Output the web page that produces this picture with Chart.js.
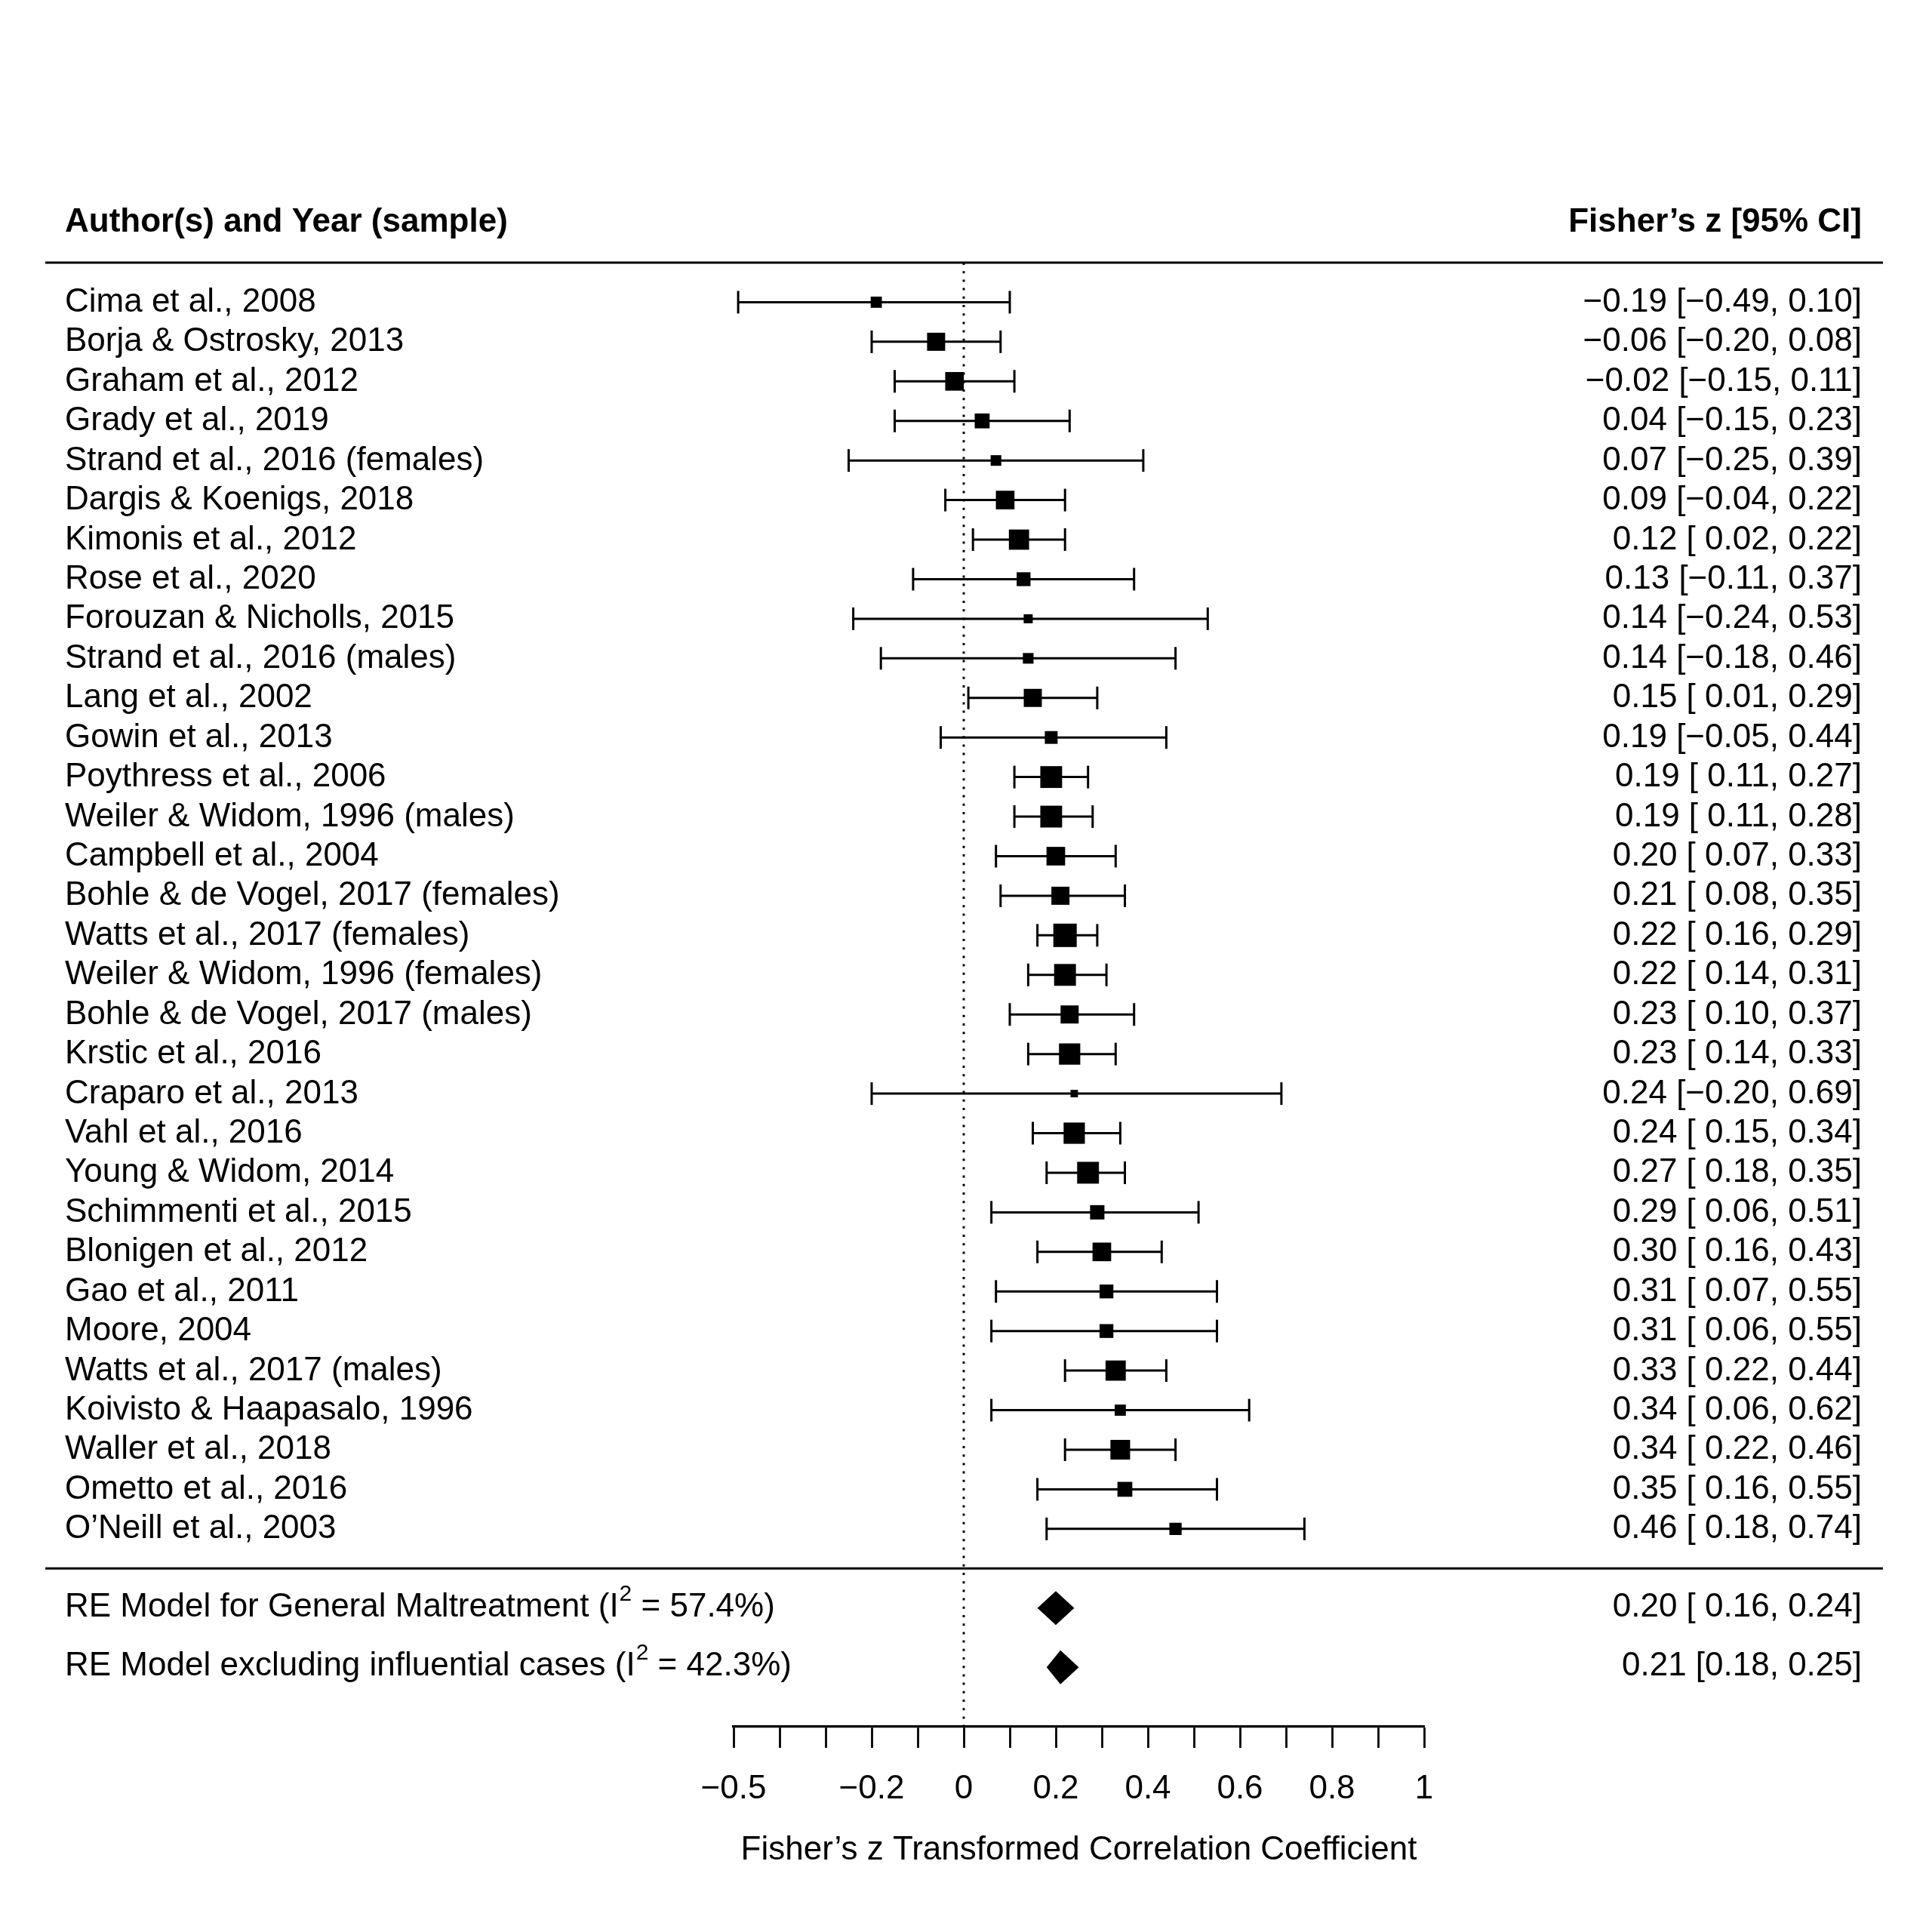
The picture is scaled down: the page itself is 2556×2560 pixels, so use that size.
<!DOCTYPE html>
<html>
<head>
<meta charset="utf-8">
<script src="https://cdn.jsdelivr.net/npm/chart.js@4.4.1/dist/chart.umd.min.js"></script>
<style>
  html, body { margin: 0; padding: 0; background: #fff; }
  #caja { width: 2556px; height: 2560px; }
</style>
</head>
<body>
<div id="caja"><canvas id="grafico" width="2556" height="2560"></canvas></div>
<script>
// datos de los estudios
const studies = [
    'Cima et al., 2008', 'Borja & Ostrosky, 2013', 'Graham et al., 2012', 'Grady et al., 2019',
    'Strand et al., 2016 (females)', 'Dargis & Koenigs, 2018', 'Kimonis et al., 2012', 'Rose et al., 2020',
    'Forouzan & Nicholls, 2015', 'Strand et al., 2016 (males)', 'Lang et al., 2002', 'Gowin et al., 2013',
    'Poythress et al., 2006', 'Weiler & Widom, 1996 (males)', 'Campbell et al., 2004', 'Bohle & de Vogel, 2017 (females)',
    'Watts et al., 2017 (females)', 'Weiler & Widom, 1996 (females)', 'Bohle & de Vogel, 2017 (males)', 'Krstic et al., 2016',
    'Craparo et al., 2013', 'Vahl et al., 2016', 'Young & Widom, 2014', 'Schimmenti et al., 2015',
    'Blonigen et al., 2012', 'Gao et al., 2011', 'Moore, 2004', 'Watts et al., 2017 (males)',
    'Koivisto & Haapasalo, 1996', 'Waller et al., 2018', 'Ometto et al., 2016', 'O\u2019Neill et al., 2003'
];
const estimates = [-0.19, -0.06, -0.02, 0.04, 0.07, 0.09, 0.12, 0.13, 0.14, 0.14, 0.15, 0.19, 0.19, 0.19, 0.20, 0.21,
    0.22, 0.22, 0.23, 0.23, 0.24, 0.24, 0.27, 0.29, 0.30, 0.31, 0.31, 0.33, 0.34, 0.34, 0.35, 0.46];
const ciLower = [-0.49, -0.20, -0.15, -0.15, -0.25, -0.04, 0.02, -0.11, -0.24, -0.18, 0.01, -0.05, 0.11, 0.11, 0.07, 0.08,
    0.16, 0.14, 0.10, 0.14, -0.20, 0.15, 0.18, 0.06, 0.16, 0.07, 0.06, 0.22, 0.06, 0.22, 0.16, 0.18];
const ciUpper = [0.10, 0.08, 0.11, 0.23, 0.39, 0.22, 0.22, 0.37, 0.53, 0.46, 0.29, 0.44, 0.27, 0.28, 0.33, 0.35,
    0.29, 0.31, 0.37, 0.33, 0.69, 0.34, 0.35, 0.51, 0.43, 0.55, 0.55, 0.44, 0.62, 0.46, 0.55, 0.74];
const weights = [2.1, 3.4, 3.5, 2.8, 2.0, 3.5, 3.8, 2.6, 1.7, 2.0, 3.4, 2.4, 4.1, 4.1, 3.5, 3.4,
    4.4, 4.1, 3.4, 4.0, 1.4, 4.0, 4.1, 2.7, 3.5, 2.6, 2.6, 3.8, 2.1, 3.7, 2.8, 2.3];

// modelos RE
const summaryLabels = ['RE Model for General Maltreatment', 'RE Model excluding influential cases'];
const summaryI2 = [57.4, 42.3];
const summaryEst = [0.20, 0.21];
const summaryLower = [0.16, 0.18];
const summaryUpper = [0.24, 0.25];

// eje x
const axisTicks = [-0.5, -0.4, -0.3, -0.2, -0.1, 0, 0.1, 0.2, 0.3, 0.4, 0.5, 0.6, 0.7, 0.8, 0.9, 1.0];
const labelledTicks = [-0.5, -0.2, 0, 0.2, 0.4, 0.6, 0.8, 1.0];

const FUENTE = '"Liberation Sans", Arial, Helvetica, sans-serif';
const SUMMARY_ROWS = [34, 35.5];
const TOTAL_ROWS = 37;
const LEFT_X = 86, RIGHT_X = 2467, RULE_L = 60, RULE_R = 2495;

const fmt = v => (v < 0 ? '\u2212' : '') + Math.abs(v).toFixed(2);

const forestPlugin = {
    id: 'forest',
    beforeDatasetsDraw(chart) {
        const { ctx, scales: { x, y } } = chart;
        const linea = (x1, y1, x2, y2) => { ctx.beginPath(); ctx.moveTo(x1, y1); ctx.lineTo(x2, y2); ctx.stroke(); };
        ctx.save();
        ctx.strokeStyle = '#000';

        // lineas horizontales
        ctx.lineWidth = 3.2;
        [0, 33].forEach(r => { const py = y.getPixelForValue(r); linea(RULE_L, py, RULE_R, py); });

        // linea punteada en 0
        ctx.lineWidth = 3;
        ctx.setLineDash([3, 8.2]);
        linea(x.getPixelForValue(0), y.getPixelForValue(0), x.getPixelForValue(0), y.getPixelForValue(TOTAL_ROWS));
        ctx.setLineDash([]);

        // intervalos de confianza
        ctx.lineWidth = 3;
        estimates.forEach((e, i) => {
            const py = y.getPixelForValue(i + 1);
            const xl = x.getPixelForValue(ciLower[i]);
            const xu = x.getPixelForValue(ciUpper[i]);
            linea(xl, py, xu, py);
            linea(xl, py - 15, xl, py + 15);
            linea(xu, py - 15, xu, py + 15);
        });
        ctx.restore();
    },
    afterDatasetsDraw(chart) {
        const { ctx, scales: { x, y } } = chart;
        ctx.save();
        ctx.fillStyle = '#000';

        // diamantes
        summaryEst.forEach((e, i) => {
            const py = y.getPixelForValue(SUMMARY_ROWS[i]);
            ctx.beginPath();
            ctx.moveTo(x.getPixelForValue(summaryLower[i]), py);
            ctx.lineTo(x.getPixelForValue(e), py - 22.5);
            ctx.lineTo(x.getPixelForValue(summaryUpper[i]), py);
            ctx.lineTo(x.getPixelForValue(e), py + 22.5);
            ctx.closePath();
            ctx.fill();
        });

        // encabezados
        ctx.font = 'bold 44px ' + FUENTE;
        ctx.textBaseline = 'alphabetic';
        ctx.textAlign = 'left';
        ctx.fillText('Author(s) and Year (sample)', LEFT_X, 307);
        ctx.textAlign = 'right';
        ctx.fillText('Fisher\u2019s z [95% CI]', RIGHT_X, 307);

        // estudios
        ctx.font = '44px ' + FUENTE;
        studies.forEach((s, i) => {
            const py = y.getPixelForValue(i + 1) + 12.5;
            ctx.textAlign = 'left';
            ctx.fillText(s, LEFT_X, py);
            ctx.textAlign = 'right';
            const lo = ciLower[i] < 0 ? fmt(ciLower[i]) : ' ' + fmt(ciLower[i]);
            ctx.fillText(fmt(estimates[i]) + ' [' + lo + ', ' + fmt(ciUpper[i]) + ']', RIGHT_X, py);
        });

        // modelos
        summaryLabels.forEach((lab, i) => {
            const py = y.getPixelForValue(SUMMARY_ROWS[i]) + 11;
            ctx.font = '44px ' + FUENTE;
            ctx.textAlign = 'left';
            const parte1 = lab + ' (I';
            ctx.fillText(parte1, LEFT_X, py);
            let px = LEFT_X + ctx.measureText(parte1).width;
            ctx.font = '30px ' + FUENTE;
            ctx.fillText('2', px + 1, py - 21);
            px += ctx.measureText('2').width + 1;
            ctx.font = '44px ' + FUENTE;
            ctx.fillText(' = ' + summaryI2[i].toFixed(1) + '%)', px, py);
            ctx.textAlign = 'right';
            const lo = i === 0 ? ' ' + fmt(summaryLower[i]) : fmt(summaryLower[i]);
            ctx.fillText(fmt(summaryEst[i]) + ' [' + lo + ', ' + fmt(summaryUpper[i]) + ']', RIGHT_X, py);
        });
        ctx.restore();
    }
};

const grafico = document.getElementById('grafico').getContext('2d');

window.graficaForest = new Chart(grafico, {
    type: 'scatter',
    data: {
        datasets: [{
            label: 'Estudios',
            data: estimates.map((e, i) => ({ x: e, y: i + 1 })),
            pointStyle: 'rect',
            pointRadius: weights.map(w => w * 7.05 / Math.SQRT2),
            pointHoverRadius: weights.map(w => w * 7.05 / Math.SQRT2),
            backgroundColor: '#000',
            borderWidth: 0
        }]
    },
    options: {
        responsive: false,
        devicePixelRatio: 1,
        animation: false,
        events: [],
        layout: { padding: { left: 972, right: 669, top: 348, bottom: 82 } },
        plugins: { legend: { display: false }, tooltip: { enabled: false } },
        scales: {
            x: {
                type: 'linear',
                position: 'bottom',
                min: -0.5,
                max: 1.0,
                afterBuildTicks: scale => { scale.ticks = axisTicks.map(v => ({ value: v })); },
                afterFit: scale => { scale.height = 190; },
                grid: {
                    drawOnChartArea: false,
                    drawTicks: true,
                    tickLength: 28,
                    tickWidth: 2.8,
                    tickColor: '#000'
                },
                border: { display: true, color: '#000', width: 3.2 },
                ticks: {
                    color: '#000',
                    padding: 28,
                    maxRotation: 0,
                    autoSkip: false,
                    font: { family: FUENTE, size: 44 },
                    callback: v => labelledTicks.some(t => Math.abs(t - v) < 1e-9)
                        ? (v < 0 ? '\u2212' + Math.abs(v) : String(Math.round(v * 10) / 10)) : ''
                },
                title: {
                    display: true,
                    text: 'Fisher\u2019s z Transformed Correlation Coefficient',
                    color: '#000',
                    font: { family: FUENTE, size: 44 },
                    padding: 0
                }
            },
            y: {
                type: 'linear',
                display: false,
                reverse: true,
                min: 0,
                max: TOTAL_ROWS
            }
        }
    },
    plugins: [forestPlugin]
});
</script>
</body>
</html>
